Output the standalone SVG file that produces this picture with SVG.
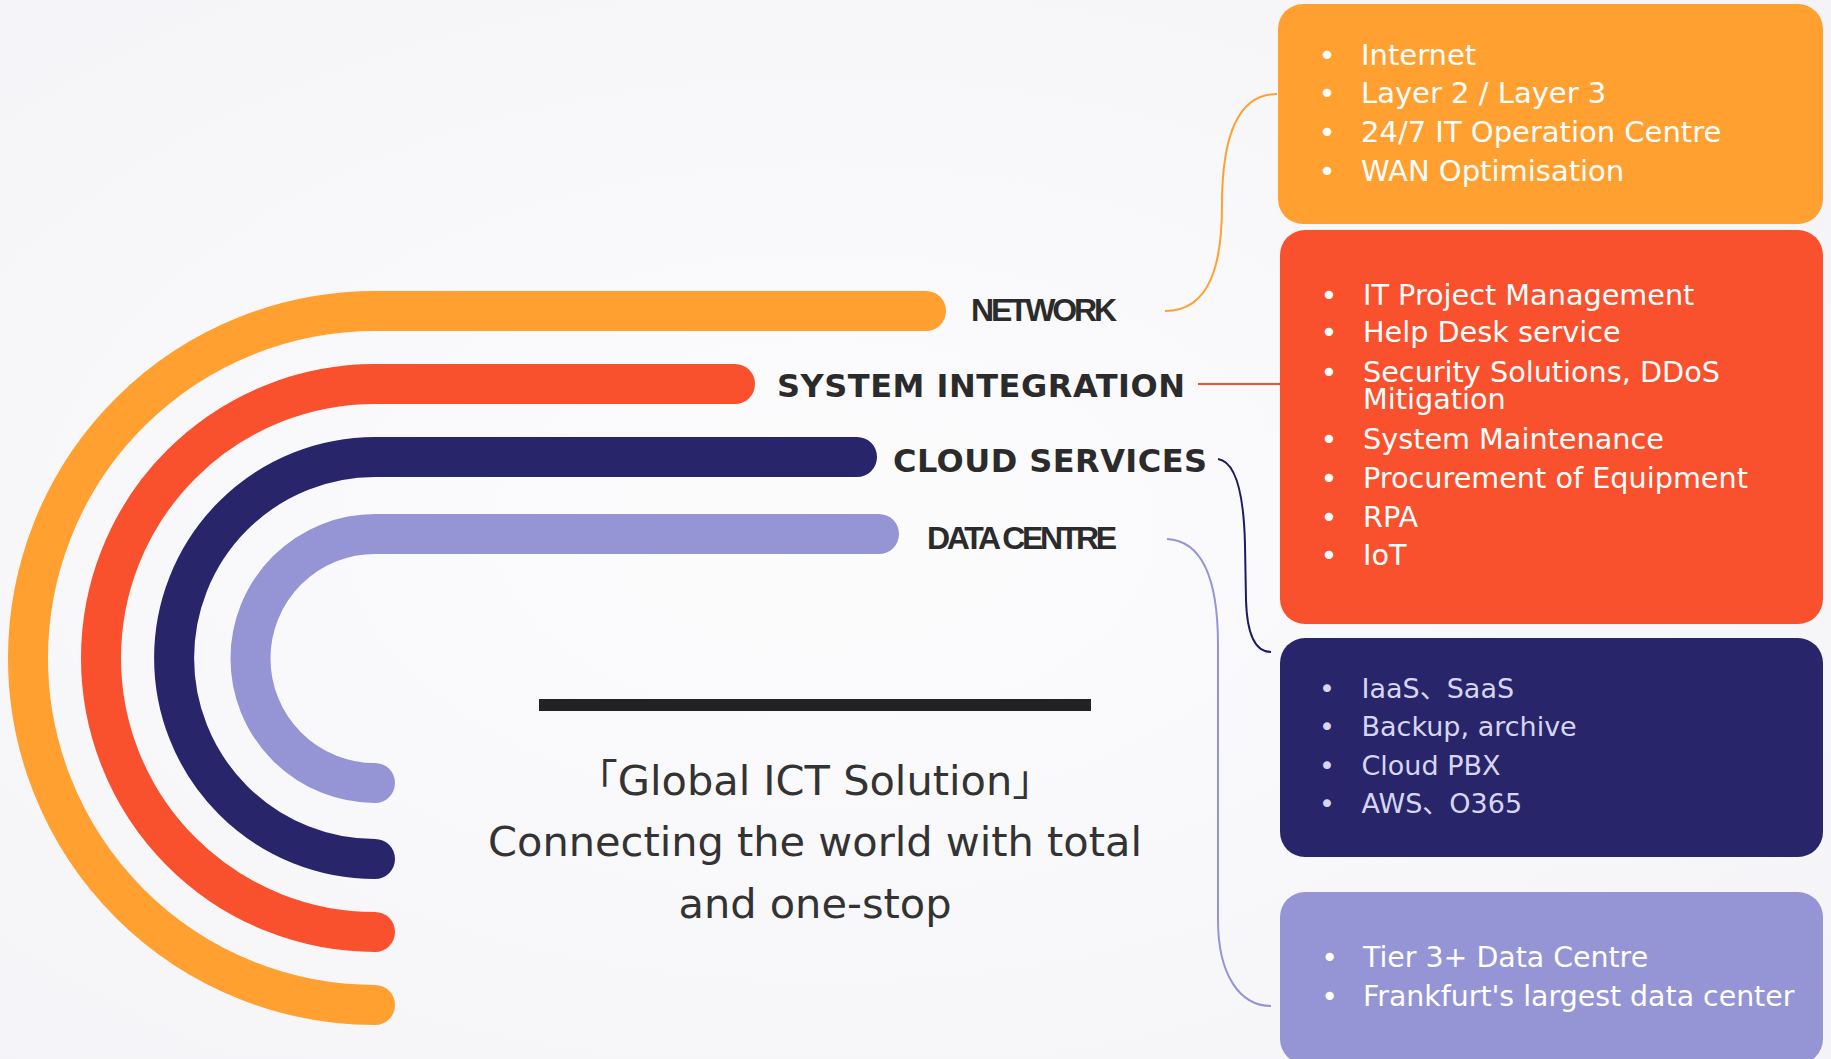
<svg xmlns="http://www.w3.org/2000/svg" width="1831" height="1059" viewBox="0 0 1831 1059">
  <defs>
    <radialGradient id="bg" cx="0.45" cy="0.5" r="0.75">
      <stop offset="0" stop-color="#FCFCFD"/>
      <stop offset="1" stop-color="#F4F4F8"/>
    </radialGradient>
    <style>
      .arc{fill:none;stroke-width:40;stroke-linecap:round}
      .lbl{fill:#2B2B2B;font-weight:bold}
      .arial{font-family:"Liberation Sans",Arial,sans-serif}
      .dv{font-family:"DejaVu Sans","Noto Sans CJK JP",sans-serif}
      .conn{fill:none;stroke-width:2}
      .bt{fill:#FFFFFF;font-family:"DejaVu Sans","Noto Sans CJK JP",sans-serif}
      .nv{fill:#D6D6F2}
      .center{fill:#333333;font-family:"DejaVu Sans","Noto Sans CJK JP",sans-serif;font-size:41.5px;text-anchor:middle}
    </style>
  </defs>
  <rect x="0" y="0" width="1831" height="1059" fill="url(#bg)"/>

  <g id="arcs">
    <path id="arc-network" class="arc" stroke="#FFA031" d="M926,311 L375,311 A347,347 0 0 0 375,1005"/>
    <path id="arc-si" class="arc" stroke="#F9502D" d="M735,384 L375,384 A274,274 0 0 0 375,932"/>
    <path id="arc-cloud" class="arc" stroke="#29256A" d="M857,457 L375,457 A201,201 0 0 0 375,859"/>
    <path id="arc-dc" class="arc" stroke="#9595D6" d="M879,534 L375,534 A124.5,124.5 0 0 0 375,783"/>
  </g>

  <g id="labels">
    <text id="lbl-network" class="lbl arial" x="971" y="321" font-size="32" textLength="146">NETWORK</text>
    <text id="lbl-si" class="lbl dv" x="777" y="397" font-size="32" textLength="408">SYSTEM INTEGRATION</text>
    <text id="lbl-cloud" class="lbl dv" x="893" y="472" font-size="32" textLength="314">CLOUD SERVICES</text>
    <text id="lbl-dc" class="lbl arial" x="927" y="549" font-size="32" textLength="190">DATA CENTRE</text>
  </g>

  <g id="tagline">
    <rect x="539" y="699" width="552" height="12" fill="#222222"/>
    <text class="center" x="815" y="795">「Global ICT Solution」</text>
    <text class="center" x="815" y="856">Connecting the world with total</text>
    <text class="center" x="815" y="918">and one-stop</text>
  </g>

  <g id="connectors">
    <path class="conn" stroke="#FFA031" d="M1165,311 C1212,311 1222,260 1222,205 C1222,140 1236,94 1277,94"/>
    <path class="conn" stroke="#F9502D" d="M1198,384 L1280,384"/>
    <path class="conn" stroke="#1E1B5E" d="M1218,459 C1238,462 1244,500 1245,545 L1246,600 C1247,635 1256,652 1271,652"/>
    <path class="conn" stroke="#9595D6" d="M1167,539 C1205,541 1218,585 1218,645 L1218,920 C1218,975 1240,1006 1271,1006"/>
  </g>

  <g id="box-network">
    <rect x="1278" y="4" width="545" height="220" rx="25" fill="#FFA031"/>
    <g class="bt" font-size="29">
      <text x="1327" y="64.8" text-anchor="middle">•</text>
      <text x="1327" y="103.3" text-anchor="middle">•</text>
      <text x="1327" y="141.7" text-anchor="middle">•</text>
      <text x="1327" y="180.6" text-anchor="middle">•</text>
      <text x="1361" y="64.8">Internet</text>
      <text x="1361" y="103.3">Layer 2 / Layer 3</text>
      <text x="1361" y="141.7">24/7 IT Operation Centre</text>
      <text x="1361" y="180.6">WAN Optimisation</text>
    </g>
  </g>

  <g id="box-si">
    <rect x="1280" y="230" width="543" height="394" rx="25" fill="#F9502D"/>
    <g class="bt" font-size="28.7">
      <text x="1329" y="305.3" text-anchor="middle">•</text>
      <text x="1329" y="342" text-anchor="middle">•</text>
      <text x="1329" y="381.6" text-anchor="middle">•</text>
      <text x="1329" y="449" text-anchor="middle">•</text>
      <text x="1329" y="487.8" text-anchor="middle">•</text>
      <text x="1329" y="526.5" text-anchor="middle">•</text>
      <text x="1329" y="565.3" text-anchor="middle">•</text>
      <text x="1363" y="305.3">IT Project Management</text>
      <text x="1363" y="342">Help Desk service</text>
      <text x="1363" y="381.6">Security Solutions, DDoS</text>
      <text x="1363" y="409.4">Mitigation</text>
      <text x="1363" y="449">System Maintenance</text>
      <text x="1363" y="487.8">Procurement of Equipment</text>
      <text x="1363" y="526.5">RPA</text>
      <text x="1363" y="565.3">IoT</text>
    </g>
  </g>

  <g id="box-cloud">
    <rect x="1280" y="638" width="543" height="219" rx="25" fill="#29256A"/>
    <g class="bt nv" font-size="27">
      <text x="1327" y="697.7" text-anchor="middle">•</text>
      <text x="1327" y="736" text-anchor="middle">•</text>
      <text x="1327" y="775" text-anchor="middle">•</text>
      <text x="1327" y="813.3" text-anchor="middle">•</text>
      <text x="1361.5" y="697.7">IaaS、SaaS</text>
      <text x="1361.5" y="736">Backup, archive</text>
      <text x="1361.5" y="775">Cloud PBX</text>
      <text x="1361.5" y="813.3">AWS、O365</text>
    </g>
  </g>

  <g id="box-dc">
    <rect x="1280" y="892" width="543" height="172" rx="25" fill="#9595D6"/>
    <g class="bt" font-size="28.4">
      <text x="1329.5" y="966.7" text-anchor="middle">•</text>
      <text x="1329.5" y="1005.7" text-anchor="middle">•</text>
      <text x="1363" y="966.7">Tier 3+ Data Centre</text>
      <text x="1363" y="1005.7">Frankfurt's largest data center</text>
    </g>
  </g>
</svg>
